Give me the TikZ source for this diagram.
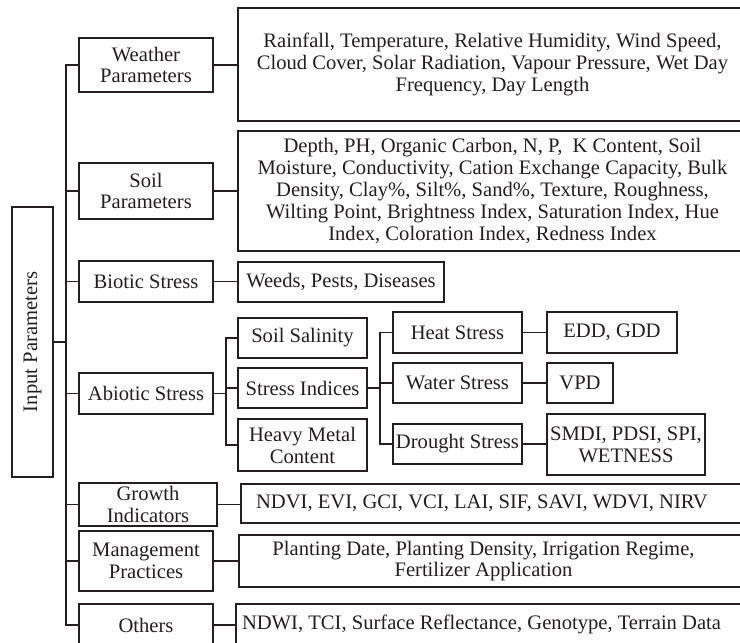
\documentclass[tikz,border=0pt]{standalone}
\usepackage{fontspec}
\setmainfont{Liberation Serif}
\definecolor{ink}{HTML}{231F20}
\begin{document}
\begin{tikzpicture}[x=1pt,y=-1pt,
  box/.style={draw=ink, line width=1.8pt, align=center, inner sep=0pt, text=ink,
              font=\fontsize{20.6}{21.9}\selectfont},
  txt/.style={align=center, inner sep=0pt, text=ink, font=\fontsize{20.6}{21.9}\selectfont},
  conn/.style={draw=ink, line width=1.8pt}]
\useasboundingbox (0,0) rectangle (740,643);
\clip (0,0) rectangle (740,643);
\fill[white] (0,0) rectangle (740,643);
% root
\node[box, rotate=90, minimum width=270pt, minimum height=41pt] (inp) at (32.5,342) {Input Parameters};
% first level
\node[box, minimum width=134pt, minimum height=54pt] (w) at (146,65) {Weather\\Parameters};
\node[box, minimum width=134pt, minimum height=56pt] (s) at (146,191) {Soil\\Parameters};
\node[box, minimum width=134pt, minimum height=41pt] (b) at (146,281.5) {Biotic Stress};
\node[box, minimum width=134pt, minimum height=41pt] (a) at (146,393.5) {Abiotic Stress};
\node[box, minimum width=138pt, minimum height=43pt] (g) at (148,504.5) {Growth\\Indicators};
\node[box, minimum width=134pt, minimum height=60pt] (m) at (146,561) {Management\\Practices};
\node[box, minimum width=134pt, minimum height=42pt] (o) at (146,625) {Others};
% details
\node[box, minimum width=509pt, minimum height=113pt] (wd) at (492.5,64.5)
  {Rainfall, Temperature, Relative Humidity, Wind Speed,\\Cloud Cover, Solar Radiation, Vapour Pressure, Wet Day\\Frequency, Day Length};
\node[box, minimum width=509pt, minimum height=120pt] (sd) at (492.5,191)
  {Depth, PH, Organic Carbon, N, P,\ \ K Content, Soil\\Moisture, Conductivity, Cation Exchange Capacity, Bulk\\Density, Clay\%, Silt\%, Sand\%, Texture, Roughness,\\Wilting Point, Brightness Index, Saturation Index, Hue\\Index, Coloration Index, Redness Index};
\node[box, minimum width=206pt, minimum height=40pt] (bd) at (341,282) {Weeds, Pests, Diseases};
% abiotic
\node[box, minimum width=129pt, minimum height=40pt] (ss) at (302.5,338) {Soil Salinity};
\node[box, minimum width=129pt, minimum height=40pt] (si) at (302.5,388) {Stress Indices};
\node[box, minimum width=129pt, minimum height=52pt] (hm) at (302.5,445) {Heavy Metal\\Content};
\node[box, minimum width=129pt, minimum height=41pt] (hs) at (457.5,332.5) {Heat Stress};
\node[box, minimum width=129pt, minimum height=40pt] (ws) at (457.5,383) {Water Stress};
\node[box, minimum width=129pt, minimum height=40pt] (ds) at (457.5,444) {Drought Stress};
\node[box, minimum width=130pt, minimum height=41pt] (edd) at (612,332.5) {EDD, GDD};
\node[box, minimum width=66pt, minimum height=40pt] (vpd) at (580,383) {VPD};
\node[box, minimum width=158pt, minimum height=61pt] (smdi) at (626,444.5) {SMDI, PDSI, SPI,\\WETNESS};
% lower details (boxes run past the right edge)
\node[box, minimum width=507pt, minimum height=39pt] (gd) at (494.5,503.5) {};
\node[txt] (gdt) at (482,503.5) {NDVI, EVI, GCI, VCI, LAI, SIF, SAVI, WDVI, NIRV};
\node[box, minimum width=509pt, minimum height=52pt] (md) at (493.5,561) {};
\node[txt] (mdt) at (483.5,561) {Planting Date, Planting Density, Irrigation Regime,\\Fertilizer Application};
\node[box, minimum width=512pt, minimum height=42pt] (od) at (492,625) {};
\node[txt] (odt) at (481.5,624) {NDWI, TCI, Surface Reflectance, Genotype, Terrain Data};
% trunk
\coordinate (tk) at (66,342);
\draw[conn] (w.west) -| (tk) |- (o.west);
\draw[conn] (inp.south) -- (inp.south -| tk);
\foreach \n in {s,b,a,g,m} \draw[conn] (\n.west) -- (\n.west -| tk);
% first to details
\draw[conn] (w.east) -- (w.east -| wd.west);
\draw[conn] (s.east) -- (s.east -| sd.west);
\draw[conn] (b.east) -- (b.east -| bd.west);
\draw[conn] (g.east) -- (g.east -| gd.west);
\draw[conn] (m.east) -- (m.east -| md.west);
\draw[conn] (o.east) -- (o.east -| od.west);
% abiotic branch
\coordinate (ab) at (226,394);
\draw[conn] (a.east) -- (a.east -| ab);
\draw[conn] (ss.west) -| (ab) |- (hm.west);
\draw[conn] (si.west) -- (si.west -| ab);
% stress indices branch
\coordinate (st) at (380,388);
\draw[conn] (si.east) -- (si.east -| st);
\draw[conn] (hs.west) -| (st) |- (ds.west);
\draw[conn] (ws.west) -- (ws.west -| st);
\draw[conn] (hs.east) -- (hs.east -| edd.west);
\draw[conn] (ws.east) -- (ws.east -| vpd.west);
\draw[conn] (ds.east) -- (ds.east -| smdi.west);
\end{tikzpicture}
\end{document}
